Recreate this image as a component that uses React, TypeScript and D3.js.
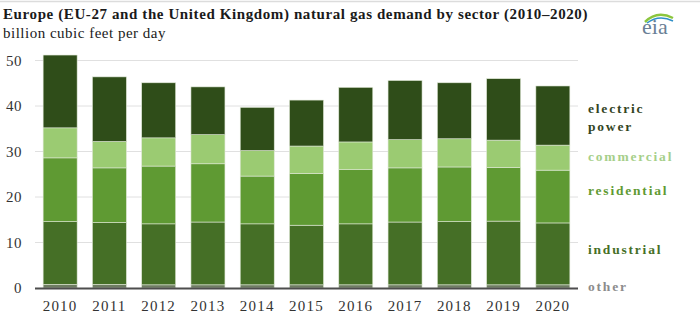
import React, { useEffect, useRef } from "react";
import * as d3 from "d3";

// years and sector values (billion cubic feet per day)
const years = ["2010", "2011", "2012", "2013", "2014", "2015", "2016", "2017", "2018", "2019", "2020"];
const other = [0.8, 0.8, 0.7, 0.7, 0.7, 0.7, 0.7, 0.7, 0.7, 0.7, 0.7];
const industrial = [13.8, 13.6, 13.4, 13.8, 13.4, 13.1, 13.4, 13.8, 13.9, 14.0, 13.6];
const residential = [14.0, 12.0, 12.7, 12.8, 10.5, 11.4, 11.9, 11.9, 12.0, 11.8, 11.6];
const commercial = [6.6, 5.8, 6.2, 6.4, 5.6, 6.0, 6.1, 6.2, 6.2, 6.0, 5.5];
const electric = [16.0, 14.2, 12.1, 10.5, 9.5, 10.1, 12.0, 13.0, 12.3, 13.5, 13.0];

const yTicks = [0, 10, 20, 30, 40, 50];

const keys = ["other", "industrial", "residential", "commercial", "electric"];
const colors: Record<string, string> = {
  other: "#6f7d63",
  industrial: "#456f26",
  residential: "#5f9a33",
  commercial: "#9bcb72",
  electric: "#2f4d19",
};

const FONT = "Liberation Serif, serif";

export default function App() {
  const ref = useRef<SVGSVGElement>(null);

  useEffect(() => {
    const width = 700;
    const height = 328;
    const svg = d3.select(ref.current);
    svg.selectAll("*").remove();

    const rows = years.map((yr, i) => ({
      year: yr,
      other: other[i],
      industrial: industrial[i],
      residential: residential[i],
      commercial: commercial[i],
      electric: electric[i],
    }));

    const x = d3.scaleBand().domain(years).range([35, 578]).paddingInner(0.31).paddingOuter(0.165);
    const y = d3.scaleLinear([0, 50], [288, 60.5]);

    // top rule
    svg.append("line").attr("x1", 0).attr("x2", width).attr("y1", 1.5).attr("y2", 1.5)
      .attr("stroke", "#dcdcdc").attr("stroke-width", 1.5);

    // title
    svg.append("text").attr("x", 3).attr("y", 19)
      .attr("font-family", FONT).attr("font-weight", "bold").attr("font-size", 15)
      .attr("letter-spacing", 0.6).attr("fill", "#1a1a1a")
      .text("Europe (EU-27 and the United Kingdom) natural gas demand by sector (2010–2020)");
    svg.append("text").attr("x", 3).attr("y", 38)
      .attr("font-family", FONT).attr("font-size", 15).attr("letter-spacing", 0.5).attr("fill", "#1a1a1a")
      .text("billion cubic feet per day");

    // eia logo
    const logo = svg.append("g").attr("transform", "translate(641,8)");
    logo.append("path").attr("d", "M4,14 Q16,2 32,10").attr("fill", "none")
      .attr("stroke", "#8cc63e").attr("stroke-width", 2.5);
    logo.append("path").attr("d", "M6,15 Q18,6 32,13").attr("fill", "none")
      .attr("stroke", "#2f8fc8").attr("stroke-width", 1.5);
    logo.append("text").attr("x", 1).attr("y", 26)
      .attr("font-family", FONT).attr("font-size", 22).attr("fill", "#6a7f96")
      .text("eia");

    // grid
    svg.append("g").selectAll("line").data(yTicks.filter(d => d > 0)).join("line")
      .attr("x1", 35).attr("x2", 578).attr("y1", d => y(d)).attr("y2", d => y(d))
      .attr("stroke", "#e0e0e0").attr("stroke-width", 1);

    // y labels
    svg.append("g").selectAll("text").data(yTicks).join("text")
      .attr("x", 22).attr("y", d => y(d)).attr("dy", "0.35em").attr("text-anchor", "end")
      .attr("font-family", FONT).attr("font-size", 15).attr("letter-spacing", 0.5).attr("fill", "#333")
      .text(d => d);

    // stacked bars
    const stack = d3.stack<any>().keys(keys);
    const layers = stack(rows);
    svg.append("g").selectAll("g").data(layers).join("g")
      .attr("fill", d => colors[d.key])
      .selectAll("rect").data(d => d).join("rect")
      .attr("x", d => x(d.data.year)!)
      .attr("width", x.bandwidth())
      .attr("y", d => y(d[1]))
      .attr("height", d => y(d[0]) - y(d[1]))
      .attr("stroke", "#dfe8d6").attr("stroke-width", 0.6);

    // x axis line
    svg.append("line").attr("x1", 35).attr("x2", 578).attr("y1", 288.5).attr("y2", 288.5)
      .attr("stroke", "#4d4d4d").attr("stroke-width", 2);

    // x labels
    svg.append("g").selectAll("text").data(years).join("text")
      .attr("x", d => x(d)! + x.bandwidth() / 2).attr("y", 311).attr("text-anchor", "middle")
      .attr("font-family", FONT).attr("font-size", 15).attr("letter-spacing", 1.2).attr("fill", "#333")
      .text(d => d);

    // right-side labels
    const labels = [
      { lines: ["electric", "power"], y: 113, color: "#33451f" },
      { lines: ["commercial"], y: 160.5, color: "#a6cf8a" },
      { lines: ["residential"], y: 194.5, color: "#5f9a33" },
      { lines: ["industrial"], y: 254, color: "#466f27" },
      { lines: ["other"], y: 291, color: "#8c8c8c" },
    ];
    const lab = svg.append("g").attr("font-family", FONT)
      .attr("font-weight", "bold").attr("font-size", 13.5).attr("letter-spacing", 1.8);
    labels.forEach(l => {
      l.lines.forEach((t, j) => {
        lab.append("text").attr("x", 588).attr("y", l.y + j * 17.5).attr("fill", l.color).text(t);
      });
    });

    svg.attr("width", width).attr("height", height);
  }, []);

  return (
    <svg ref={ref} width={700} height={328}
      style={{ position: "absolute", left: 0, top: 0, background: "#fff" }} />
  );
}
